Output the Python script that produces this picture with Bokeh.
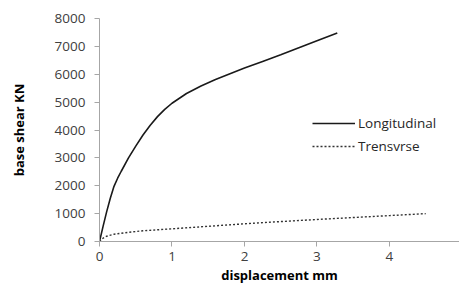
from bokeh.plotting import figure
from bokeh.models import Range1d, FixedTicker, Legend, LegendItem
from bokeh.embed import file_html
from bokeh.resources import INLINE

# Data
long_x = [0, 0.05, 0.1, 0.15, 0.2, 0.25, 0.3, 0.4, 0.5, 0.6, 0.7, 0.8, 0.9, 1.0,
          1.2, 1.4, 1.6, 1.8, 2.0, 2.25, 2.5, 2.75, 3.0, 3.28]
long_y = [0, 550, 1080, 1560, 1980, 2270, 2520, 3000, 3420, 3820, 4170, 4480, 4740, 4960,
          5310, 5580, 5810, 6020, 6220, 6460, 6700, 6950, 7200, 7480]
trans_x = [0, 0.05, 0.1, 0.2, 0.4, 0.6, 1.0, 1.5, 2.0, 2.5, 3.0, 3.5, 4.0, 4.5]
trans_y = [0, 120, 190, 260, 330, 385, 455, 545, 635, 715, 790, 860, 930, 1000]
x_ticks = [0, 1, 2, 3, 4]
y_ticks = [0, 1000, 2000, 3000, 4000, 5000, 6000, 7000, 8000]

FONT = "Open Sans"
AXIS_COL = "#a6a6a6"
TXT_COL = "#404040"

p = figure(width=459, height=286, output_backend="svg", toolbar_location=None,
           x_range=Range1d(0, 4.966), y_range=Range1d(0, 8000),
           min_border_left=99, min_border_right=0, min_border_top=18, min_border_bottom=45)
p.outline_line_color = None
p.background_fill_color = "white"
p.border_fill_color = "white"

p.xgrid.grid_line_color = None
p.ygrid.ticker = FixedTicker(ticks=[8000])
p.ygrid.grid_line_color = AXIS_COL
p.ygrid.grid_line_width = 1

for ax in (p.xaxis[0], p.yaxis[0]):
    ax.axis_line_color = AXIS_COL
    ax.major_tick_line_color = AXIS_COL
    ax.minor_tick_line_color = None
    ax.major_tick_in = 0
    ax.major_tick_out = 5
    ax.major_label_text_font = FONT
    ax.major_label_text_font_size = "13.5px"
    ax.major_label_text_color = TXT_COL
    ax.axis_label_text_font = FONT
    ax.axis_label_text_font_size = "13px"
    ax.axis_label_text_font_style = "bold"
    ax.axis_label_text_color = "black"

p.xaxis.ticker = FixedTicker(ticks=x_ticks)
p.yaxis.ticker = FixedTicker(ticks=y_ticks)
p.xaxis.axis_label = "displacement mm"
p.yaxis.axis_label = "base shear KN"
p.yaxis.major_label_standoff = 9
p.yaxis.axis_label_standoff = 24
p.xaxis.major_label_standoff = 5
p.xaxis.axis_label_standoff = 2

r1 = p.line(long_x, long_y, line_color="#1a1a1a", line_width=1.6)
r2 = p.line(trans_x, trans_y, line_color="#333333", line_width=1.4, line_dash="2 2")

legend = Legend(items=[LegendItem(label="Longitudinal", renderers=[r1]),
                       LegendItem(label="Trensvrse", renderers=[r2])],
                location=(213, 85))
legend.border_line_color = None
legend.background_fill_alpha = 0
legend.padding = 0
legend.margin = 0
legend.spacing = 3
legend.glyph_width = 43
legend.glyph_height = 20
legend.label_height = 20
legend.label_standoff = 3
legend.label_text_font = FONT
legend.label_text_font_size = "13.5px"
legend.label_text_color = "#262626"
p.add_layout(legend, "center")

open("out.html", "w").write(file_html(p, INLINE))
